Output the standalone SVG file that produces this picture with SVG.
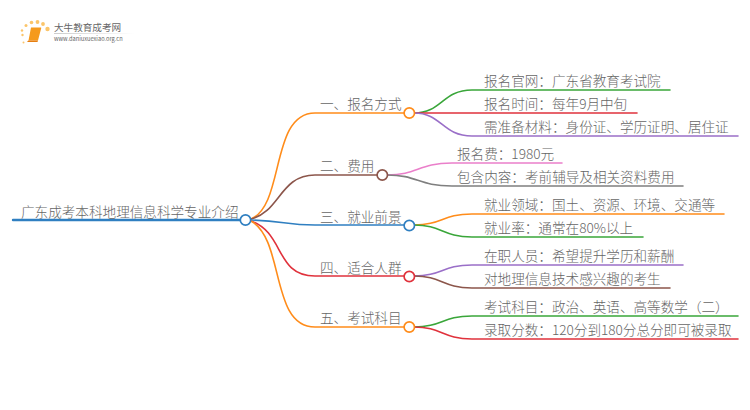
<svg xmlns="http://www.w3.org/2000/svg" width="750" height="410" viewBox="0 0 750 410">
<style>
text{font-family:"Noto Sans CJK SC","Noto Sans",sans-serif;fill:#666;font-size:13.6px;font-weight:300}
.c{fill:none;stroke-width:1.6;stroke-linecap:round}
.n{fill:#fff;stroke-width:1.7}
.o{stroke:#ff8c1a}.b{stroke:#8c564b}.u{stroke:#2f7fc1}.r{stroke:#e0323c}.g{stroke:#3aa63a}.p{stroke:#9a6fc8}.k{stroke:#ea7fca}.y{stroke:#7f7f7f}
</style>
<defs><linearGradient id="fade"><stop offset="0" stop-color="#ccc"/><stop offset="1" stop-color="#fff"/></linearGradient></defs>
<rect width="750" height="410" fill="#fff"/>
<g id="logo">
<g fill="#fbc56a"><circle cx="23.500" cy="42.500" r="1"/><circle cx="22.500" cy="35" r="1.200"/><circle cx="22" cy="30.500" r="1.200"/><circle cx="26" cy="25.500" r="1.500"/><circle cx="31.500" cy="22.500" r="1.800"/><circle cx="37.500" cy="22" r="1.900"/><circle cx="43" cy="24" r="1.900"/><circle cx="47.500" cy="29" r="2.200"/></g>
<path d="M31 27.500H41Q41.500 27.500 41 29L38 40.500H28.500Z" fill="#f59a1c"/><path d="M27 41.500L28.500 40.500H38L37.500 42H28Z" fill="#e67e10"/>
<rect x="54" y="33" width="80" height="1" fill="url(#fade)"/>
<text x="54" y="31" style="font-size:9.600px;font-weight:400">大牛教育成考网</text>
<text x="54" y="41" style="font-size:5.700px;font-weight:400">www.daniuxuexiao.org.cn</text>
</g>
<g id="connectors">
<path class="c u" d="M13 220H240" style="stroke-width:2.400"/>
<path class="c o" d="M251 219C285 205 270 113 315 113H404"/>
<path class="c b" d="M251 219C280 212 280 175 315 175H377"/>
<path class="c u" d="M251 220C285 221 285 225 315 225H404"/>
<path class="c r" d="M251 221C285 233 275 276 315 276H404"/>
<path class="c o" d="M251 221C285 240 270 327 315 327H404"/>
<path class="c g" d="M414 113C442 113 442 90 472 90H670"/>
<path class="c r" d="M414 113H637"/>
<path class="c p" d="M414 113C442 113 442 136 472 136H738"/>
<path class="c k" d="M387 175C418 175 418 163 452 163H562"/>
<path class="c y" d="M387 175C418 175 418 186 452 186H683"/>
<path class="c o" d="M414 225C442 225 442 214 472 214H724"/>
<path class="c g" d="M414 225C442 225 442 237 472 237H643"/>
<path class="c p" d="M414 276C442 276 442 265 472 265H683"/>
<path class="c b" d="M414 276C442 276 442 288 472 288H670"/>
<path class="c g" d="M414 327C442 327 442 316 472 316H738"/>
<path class="c r" d="M414 327C442 327 442 339 472 339H738"/>
</g>
<g id="root"><circle class="n u" cx="245.500" cy="220" r="5.200"/><text x="21" y="217">广东成考本科地理信息科学专业介绍</text></g>
<g id="n1"><circle class="n o" cx="409.300" cy="113" r="5.200"/><text x="320" y="109">一、报名方式</text></g>
<g id="n2"><circle class="n b" cx="382.300" cy="175" r="5.200"/><text x="320" y="171">二、费用</text></g>
<g id="n3"><circle class="n u" cx="409.300" cy="225.500" r="5.200"/><text x="320" y="221.500">三、就业前景</text></g>
<g id="n4"><circle class="n r" cx="409.300" cy="276.500" r="5.200"/><text x="320" y="272.500">四、适合人群</text></g>
<g id="n5"><circle class="n o" cx="409.300" cy="327" r="5.200"/><text x="320" y="323">五、考试科目</text></g>
<g id="l1"><text x="484" y="86">报名官网&#xFF1A;广东省教育考试院</text></g>
<g id="l2"><text x="484" y="109">报名时间&#xFF1A;每年9月中旬</text></g>
<g id="l3"><text x="484" y="132">需准备材料&#xFF1A;身份证、学历证明、居住证</text></g>
<g id="l4"><text x="457" y="159">报名费&#xFF1A;1980元</text></g>
<g id="l5"><text x="457" y="182">包含内容&#xFF1A;考前辅导及相关资料费用</text></g>
<g id="l6"><text x="484" y="210">就业领域&#xFF1A;国土、资源、环境、交通等</text></g>
<g id="l7"><text x="484" y="233">就业率&#xFF1A;通常在80%以上</text></g>
<g id="l8"><text x="484" y="261">在职人员&#xFF1A;希望提升学历和薪酬</text></g>
<g id="l9"><text x="484" y="284">对地理信息技术感兴趣的考生</text></g>
<g id="l10"><text x="484" y="312">考试科目&#xFF1A;政治、英语、高等数学&#xFF08;二&#xFF09;</text></g>
<g id="l11"><text x="484" y="335">录取分数&#xFF1A;120分到180分总分即可被录取</text></g>
</svg>
